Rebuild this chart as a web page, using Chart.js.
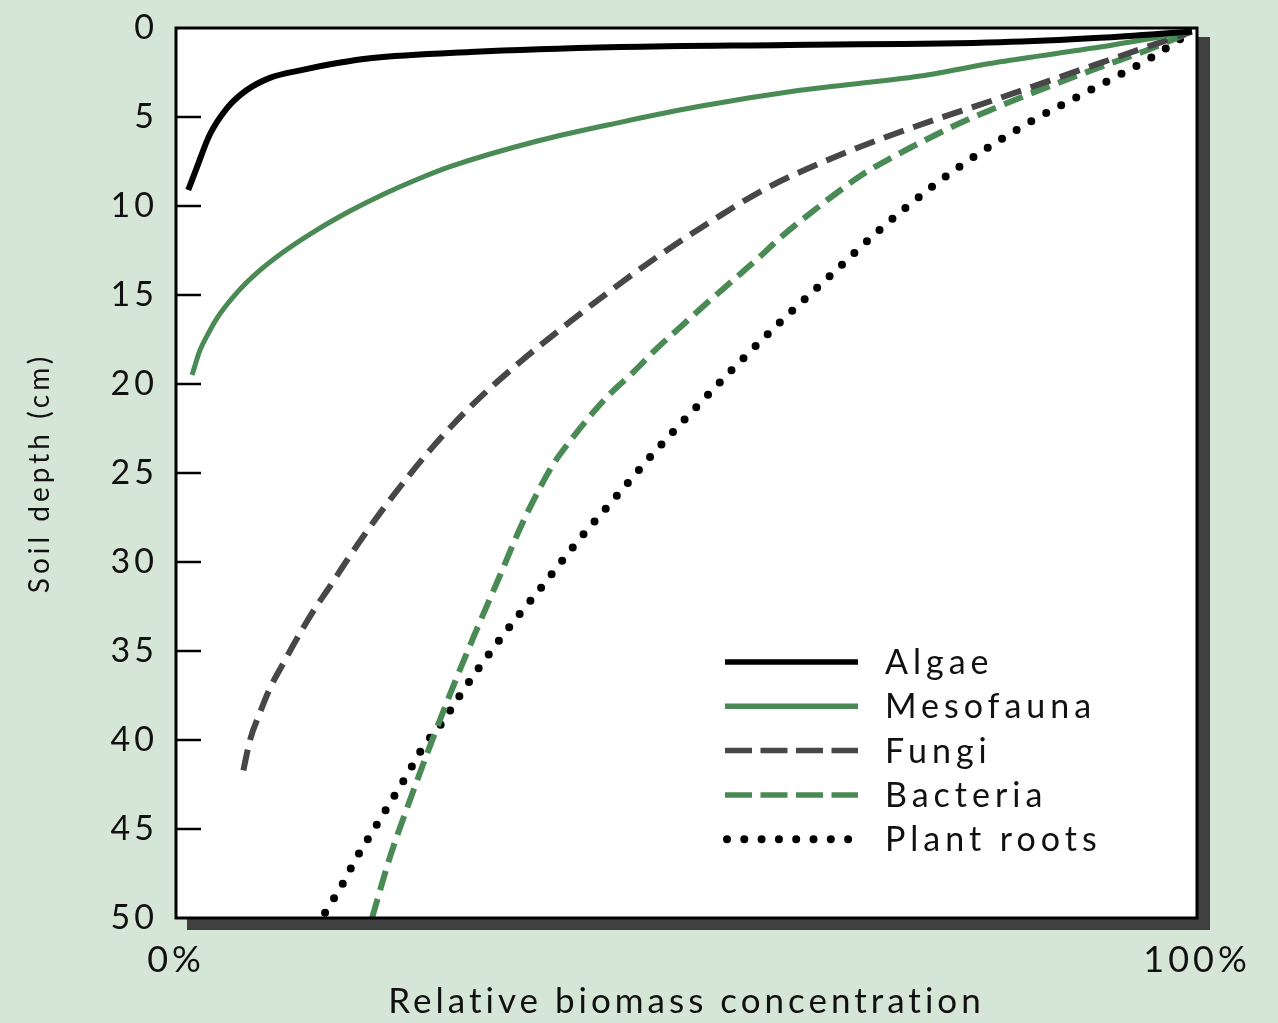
<!DOCTYPE html>
<html><head><meta charset="utf-8">
<script src="https://cdn.jsdelivr.net/npm/chart.js@4.4.1/dist/chart.umd.min.js"></script>
<style>html,body{margin:0;padding:0;background:#d6e6d6;overflow:hidden}canvas{display:block}</style>
</head><body>
<canvas id="c" width="1278" height="1023"></canvas>
<script>
// ---- data (percent of max biomass, soil depth in cm) ----
const seriesNames = ['Algae', 'Mesofauna', 'Fungi', 'Bacteria', 'Plant roots'];

const algaePct   = [1.2, 2.0, 3.3, 5.0, 6.9, 9.2, 12.4, 15.8, 19.0, 28.8, 43.5, 60.0, 80.7, 90.5, 99.5];
const algaeDepth = [9.1, 7.9, 6.0, 4.5, 3.5, 2.8, 2.35, 1.97, 1.7, 1.35, 1.07, 0.95, 0.8, 0.55, 0.2];

const mesoPct   = [1.57, 2.35, 3.13, 4.02, 5.97, 7.93, 10.48, 13.81, 17.04, 20.27, 23.6, 26.84, 35.4, 43.5, 51.3, 61.1, 72.9, 80.7, 90.5, 99.5];
const mesoDepth = [19.5, 18.1, 17.2, 16.3, 14.87, 13.76, 12.6, 11.34, 10.28, 9.35, 8.51, 7.79, 6.35, 5.3, 4.4, 3.5, 2.7, 1.9, 1.07, 0.2];

const fungiPct   = [6.6, 7.25, 8.2, 9.2, 10.5, 11.85, 13.4, 15.1, 16.75, 18.3, 20.7, 24.9, 28.8, 33.7, 38.6, 42.8, 47.4, 52.3, 57.9, 64.3, 70.9, 80.7, 90.5, 99.5];
const fungiDepth = [41.7, 40.0, 38.5, 37.1, 35.7, 34.3, 32.8, 31.35, 29.9, 28.6, 26.7, 23.7, 21.3, 18.76, 16.5, 14.65, 12.75, 10.9, 8.98, 7.3, 5.84, 3.93, 1.97, 0.2];

const bactPct   = [19.2, 21.0, 22.9, 24.9, 27.0, 29.3, 31.7, 33.7, 35.4, 36.9, 38.6, 40.55, 42.5, 44.8, 47.1, 49.6, 52.0, 54.5, 56.9, 59.35, 61.8, 64.7, 67.3, 70.2, 73.4, 76.8, 80.7, 85.6, 90.5, 95.4, 99.5];
const bactDepth = [50.0, 46.5, 43.4, 40.3, 37.2, 34.0, 30.8, 28.1, 26.1, 24.55, 23.2, 21.8, 20.56, 19.33, 18.0, 16.7, 15.45, 14.2, 13.0, 11.7, 10.56, 9.27, 8.2, 7.25, 6.29, 5.34, 4.38, 3.26, 2.2, 1.18, 0.2];

const rootsPct   = [14.6, 16.3, 17.7, 19.3, 21.0, 22.6, 24.2, 26.1, 27.8, 29.6, 31.4, 33.4, 35.4, 39.4, 42.7, 46.9, 51.3, 54.8, 59.4, 64.1, 69.0, 74.1, 78.5, 83.6, 89.5, 95.4, 99.5];
const rootsDepth = [49.7, 48.1, 46.6, 45.1, 43.5, 42.0, 40.4, 39.0, 37.5, 36.0, 34.6, 33.1, 31.7, 28.8, 26.6, 23.8, 21.1, 19.0, 16.4, 13.9, 11.3, 8.9, 7.1, 5.3, 3.5, 1.7, 0.2];

const depthTickStep = 5;
const xTickLabels = ['0%', '100%'];
const xTitle = 'Relative biomass concentration';
const yTitle = 'Soil depth (cm)';

// ---- styles ----
const FONT = "Lato, 'Open Sans', sans-serif";
const GREEN = '#4a8a55';
const GRAY = '#474747';
const BLACK = '#000000';
const BG = '#d6e6d6';

function pts(xs, ys) { return xs.map((x, i) => ({ x: x, y: ys[i] })); }

const styles = [
  { color: BLACK, width: 6, dash: [], legendDash: [], cap: 'butt' },
  { color: GREEN, width: 5, dash: [], legendDash: [], cap: 'butt' },
  { color: GRAY,  width: 6, dash: [21, 10], legendDash: [27, 8.5], cap: 'butt' },
  { color: GREEN, width: 6, dash: [20, 9],  legendDash: [27, 8.5], cap: 'butt' },
  { color: BLACK, width: 8, dash: [0, 17],  legendDash: [0, 17.3], cap: 'round' }
];
const seriesData = [
  pts(algaePct, algaeDepth), pts(mesoPct, mesoDepth), pts(fungiPct, fungiDepth),
  pts(bactPct, bactDepth), pts(rootsPct, rootsDepth)
];

const datasets = seriesNames.map((n, i) => ({
  label: n,
  data: seriesData[i],
  showLine: true,
  borderColor: styles[i].color,
  backgroundColor: styles[i].color,
  borderWidth: styles[i].width,
  borderDash: styles[i].dash,
  borderCapStyle: styles[i].cap,
  borderJoinStyle: 'round',
  pointRadius: 0,
  cubicInterpolationMode: 'monotone',
  fill: false
}));

const framePlugin = {
  id: 'frame',
  beforeDraw(chart) {
    const { ctx, chartArea: a } = chart;
    ctx.save();
    ctx.fillStyle = BG;
    ctx.fillRect(0, 0, chart.width, chart.height);
    ctx.fillStyle = '#404040';
    ctx.fillRect(a.left + 11, a.top + 9, a.right - a.left + 2, a.bottom - a.top + 3);
    ctx.fillStyle = '#ffffff';
    ctx.fillRect(a.left, a.top, a.right - a.left, a.bottom - a.top);
    ctx.restore();
    ctx.letterSpacing = '4px';
  },
  afterDatasetsDraw(chart) {
    const { ctx, chartArea: a, scales } = chart;
    ctx.save();
    ctx.strokeStyle = BLACK;
    ctx.lineWidth = 3;
    ctx.strokeRect(a.left, a.top, a.right - a.left, a.bottom - a.top);
    // inward tick marks
    ctx.lineWidth = 2.5;
    const ys = scales.y;
    ys.ticks.forEach((t) => {
      if (t.value <= ys.min || t.value >= ys.max) return;
      const py = ys.getPixelForValue(t.value);
      ctx.beginPath();
      ctx.moveTo(a.left, py);
      ctx.lineTo(a.left + 25, py);
      ctx.stroke();
    });
    // legend
    const lx0 = a.left + 549, lx1 = a.left + 682, tx = a.left + 709;
    const ly0 = a.top + 634, dy = 44.3;
    chart.data.datasets.forEach((ds, i) => {
      const y = ly0 + i * dy;
      const s = styles[i];
      ctx.beginPath();
      ctx.setLineDash(s.legendDash);
      ctx.lineCap = s.cap;
      ctx.strokeStyle = s.color;
      ctx.lineWidth = i === 4 ? 8 : 5.5;
      ctx.moveTo(i === 4 ? lx0 + 2 : lx0, y);
      ctx.lineTo(lx1, y);
      ctx.stroke();
      ctx.setLineDash([]);
      ctx.fillStyle = '#111';
      ctx.font = '34px ' + FONT;
      ctx.letterSpacing = '5px';
      ctx.textAlign = 'left';
      ctx.textBaseline = 'middle';
      ctx.fillText(ds.label, tx, y + 1);
    });
    ctx.restore();
  }
};

new Chart(document.getElementById('c'), {
  type: 'scatter',
  data: { datasets },
  options: {
    responsive: false,
    animation: false,
    devicePixelRatio: 1,
    layout: { padding: { top: 28, right: 81, left: 0, bottom: 0 } },
    plugins: { legend: { display: false }, tooltip: { enabled: false } },
    scales: {
      x: {
        type: 'linear', min: 0, max: 100, position: 'bottom',
        ticks: {
          stepSize: 100, maxRotation: 0, autoSkip: false, padding: 21, color: '#111',
          font: { family: FONT, size: 36 },
          callback: v => v === 0 ? xTickLabels[0] : (v === 100 ? xTickLabels[1] : '')
        },
        grid: { display: false, drawTicks: false },
        border: { display: false },
        title: { display: true, text: xTitle, color: '#111', font: { family: FONT, size: 35 }, padding: { top: 0, bottom: 0 } },
        afterFit: s => { s.height = 105; s.paddingLeft = 0; s.paddingRight = 0; }
      },
      y: {
        type: 'linear', min: 0, max: 50, reverse: true, position: 'left',
        ticks: { stepSize: depthTickStep, padding: 18, color: '#111', font: { family: FONT, size: 34 } },
        grid: { display: false, drawTicks: false },
        border: { display: false },
        title: { display: true, text: yTitle, color: '#111', font: { family: FONT, size: 28 }, padding: { top: 23, bottom: 0 } },
        afterFit: s => { s.width = 176; s.paddingTop = 0; s.paddingBottom = 0; }
      }
    }
  },
  plugins: [framePlugin]
});
</script>
</body></html>
